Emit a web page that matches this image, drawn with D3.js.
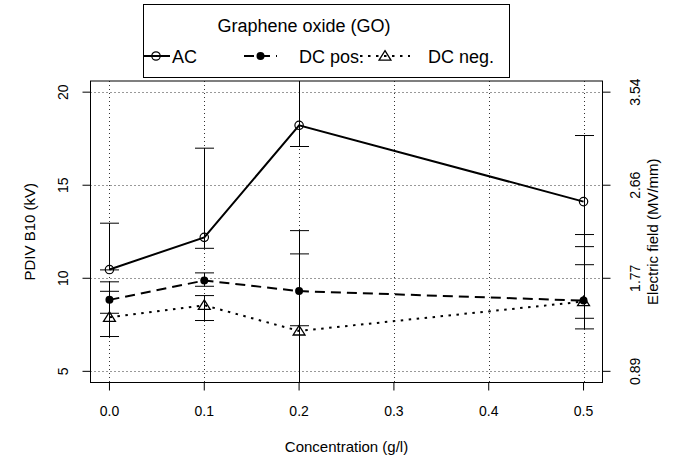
<!DOCTYPE html>
<html>
<head>
<meta charset="utf-8">
<script src="https://cdn.jsdelivr.net/npm/d3@7"></script>
<style>
  html, body { margin: 0; padding: 0; background: #fff; }
  svg { display: block; font-family: "Liberation Sans", Arial, sans-serif; }
</style>
</head>
<body>
<svg id="chart" width="675" height="463"></svg>
<script>
// Concentrations (g/l)
const concentrations = [0, 0.1, 0.2, 0.5];

// PDIV B10 (kV) per test type, with interval bounds
const acValues   = [10.47, 12.2, 18.22, 14.12];
const acLower    = [10.45, 11.61, 17.08, 10.73];
const acUpper    = [12.96, 16.99, 21.5, 17.67];

const dcPosValues = [8.84, 9.88, 9.31, 8.8];
const dcPosLower  = [8.12, 9.57, 7.45, 7.28];
const dcPosUpper  = [9.81, 10.29, 12.56, 12.35];

const dcNegValues = [7.9, 8.55, 7.17, 8.75];
const dcNegLower  = [6.87, 7.73, 3.5, 7.85];
const dcNegUpper  = [9.30, 9.07, 11.31, 11.7];

// Axis ticks
const xTicks = [0, 0.1, 0.2, 0.3, 0.4, 0.5];
const xTickLabels = ["0.0", "0.1", "0.2", "0.3", "0.4", "0.5"];
const yTicks = [5, 10, 15, 20];
const fieldTickLabels = ["0.89", "1.77", "2.66", "3.54"];

const legendTitle = "Graphene oxide (GO)";
const seriesNames = ["AC", "DC pos.", "DC neg."];

const svg = d3.select("#chart");

const plot = { left: 90.5, right: 602.5, top: 81, bottom: 382.5 };

const x = d3.scaleLinear().domain([-0.02, 0.52]).range([plot.left, plot.right]);
const y = d3.scaleLinear().domain([4.4, 20.6]).range([plot.bottom, plot.top]);

const series = [
  { name: seriesNames[0], values: acValues, lower: acLower, upper: acUpper,
    dash: null, symbol: "circle" },
  { name: seriesNames[1], values: dcPosValues, lower: dcPosLower, upper: dcPosUpper,
    dash: "10,6", symbol: "dot" },
  { name: seriesNames[2], values: dcNegValues, lower: dcNegLower, upper: dcNegUpper,
    dash: "2.5,5.5", symbol: "triangle" }
];

svg.append("defs").append("clipPath").attr("id", "plot-clip")
  .append("rect")
  .attr("x", plot.left).attr("y", plot.top)
  .attr("width", plot.right - plot.left).attr("height", plot.bottom - plot.top);

// Dotted grid
const grid = svg.append("g").attr("stroke", "#333").attr("stroke-width", 1)
  .attr("stroke-dasharray", "1,3");
grid.selectAll("line.v").data(xTicks).join("line")
  .attr("x1", d => Math.round(x(d)) + 0.5).attr("x2", d => Math.round(x(d)) + 0.5)
  .attr("y1", plot.top).attr("y2", plot.bottom);
grid.selectAll("line.h").data(yTicks).join("line")
  .attr("y1", d => Math.round(y(d)) + 0.5).attr("y2", d => Math.round(y(d)) + 0.5)
  .attr("x1", plot.left).attr("x2", plot.right);

const body = svg.append("g").attr("clip-path", "url(#plot-clip)");

// Series lines
const line = d3.line().x(d => x(d[0])).y(d => y(d[1]));
series.forEach(s => {
  body.append("path")
    .datum(concentrations.map((c, i) => [c, s.values[i]]))
    .attr("d", line)
    .attr("fill", "none")
    .attr("stroke", "#000")
    .attr("stroke-width", 2)
    .attr("stroke-dasharray", s.dash);
});

// Interval bars with caps
const capHalf = 9.5;
series.forEach(s => {
  const g = body.append("g").attr("stroke", "#000").attr("stroke-width", 1);
  concentrations.forEach((c, i) => {
    const cx = Math.round(x(c)) + 0.5;
    g.append("line").attr("x1", cx).attr("x2", cx)
      .attr("y1", y(s.lower[i])).attr("y2", y(s.upper[i]));
    [s.lower[i], s.upper[i]].forEach(v => {
      g.append("line").attr("x1", cx - capHalf).attr("x2", cx + capHalf)
        .attr("y1", y(v)).attr("y2", y(v));
    });
  });
});

// Point symbols
function drawSymbol(g, kind, cx, cy) {
  if (kind === "circle") {
    g.append("circle").attr("cx", cx).attr("cy", cy).attr("r", 4.2)
      .attr("fill", "none").attr("stroke", "#000").attr("stroke-width", 1.2);
  } else if (kind === "dot") {
    g.append("circle").attr("cx", cx).attr("cy", cy).attr("r", 4)
      .attr("fill", "#000");
  } else {
    const h = 5.4;
    g.append("path")
      .attr("d", `M${cx},${cy - h}L${cx + h * 1.1},${cy + h * 0.75}L${cx - h * 1.1},${cy + h * 0.75}Z`)
      .attr("fill", "none").attr("stroke", "#000").attr("stroke-width", 1.3);
  }
}
series.forEach(s => {
  const g = body.append("g");
  concentrations.forEach((c, i) => drawSymbol(g, s.symbol, x(c), y(s.values[i])));
});

// Plot frame
svg.append("rect")
  .attr("x", plot.left).attr("y", plot.top)
  .attr("width", plot.right - plot.left).attr("height", plot.bottom - plot.top)
  .attr("fill", "none").attr("stroke", "#000").attr("stroke-width", 1);

const tickFont = 14;
const titleFont = 15;
const tickLen = 8;

// Bottom axis
const bottom = svg.append("g");
bottom.selectAll("line").data(xTicks).join("line")
  .attr("x1", d => x(d)).attr("x2", d => x(d))
  .attr("y1", plot.bottom).attr("y2", plot.bottom + tickLen)
  .attr("stroke", "#000");
bottom.selectAll("text").data(xTicks).join("text")
  .attr("x", d => x(d)).attr("y", 416)
  .attr("text-anchor", "middle").attr("font-size", tickFont)
  .text((d, i) => xTickLabels[i]);
svg.append("text").attr("x", (plot.left + plot.right) / 2).attr("y", 452)
  .attr("text-anchor", "middle").attr("font-size", titleFont)
  .text("Concentration (g/l)");

// Left axis
const left = svg.append("g");
left.selectAll("line").data(yTicks).join("line")
  .attr("x1", plot.left - tickLen).attr("x2", plot.left)
  .attr("y1", d => y(d)).attr("y2", d => y(d))
  .attr("stroke", "#000");
left.selectAll("text").data(yTicks).join("text")
  .attr("transform", d => `translate(68,${y(d)}) rotate(-90)`)
  .attr("text-anchor", "middle").attr("font-size", tickFont)
  .text(d => d);
svg.append("text")
  .attr("transform", `translate(35,${(plot.top + plot.bottom) / 2}) rotate(-90)`)
  .attr("text-anchor", "middle").attr("font-size", titleFont)
  .text("PDIV B10 (kV)");

// Right axis (electric field)
const right = svg.append("g");
right.selectAll("line").data(yTicks).join("line")
  .attr("x1", plot.right).attr("x2", plot.right + tickLen)
  .attr("y1", d => y(d)).attr("y2", d => y(d))
  .attr("stroke", "#000");
right.selectAll("text").data(yTicks).join("text")
  .attr("transform", d => `translate(640,${y(d)}) rotate(-90)`)
  .attr("text-anchor", "middle").attr("font-size", tickFont)
  .text((d, i) => fieldTickLabels[i]);
svg.append("text")
  .attr("transform", `translate(658,${(plot.top + plot.bottom) / 2}) rotate(-90)`)
  .attr("text-anchor", "middle").attr("font-size", titleFont)
  .text("Electric field (MV/mm)");

// Legend
const legend = svg.append("g");
legend.append("rect")
  .attr("x", 143.5).attr("y", 4.5).attr("width", 366).attr("height", 73)
  .attr("fill", "#fff").attr("stroke", "#000").attr("stroke-width", 1);
legend.append("text").attr("x", 304).attr("y", 31.5)
  .attr("text-anchor", "middle").attr("font-size", 18)
  .text(legendTitle);
const legendItems = [
  { s: series[0], x0: 142, x1: 170, tx: 172 },
  { s: series[1], x0: 244, x1: 277, tx: 299 },
  { s: series[2], x0: 360, x1: 410, tx: 428 }
];
legendItems.forEach(it => {
  const ly = 56;
  legend.append("line").attr("x1", Math.max(it.x0, 144)).attr("x2", it.x1)
    .attr("y1", ly).attr("y2", ly)
    .attr("stroke", "#000").attr("stroke-width", 2)
    .attr("stroke-dasharray", it.s.dash);
  drawSymbol(legend, it.s.symbol, (it.x0 + it.x1) / 2, ly);
  legend.append("text").attr("x", it.tx).attr("y", ly + 6.5)
    .attr("font-size", 18).text(it.s.name);
});
</script>
</body>
</html>
